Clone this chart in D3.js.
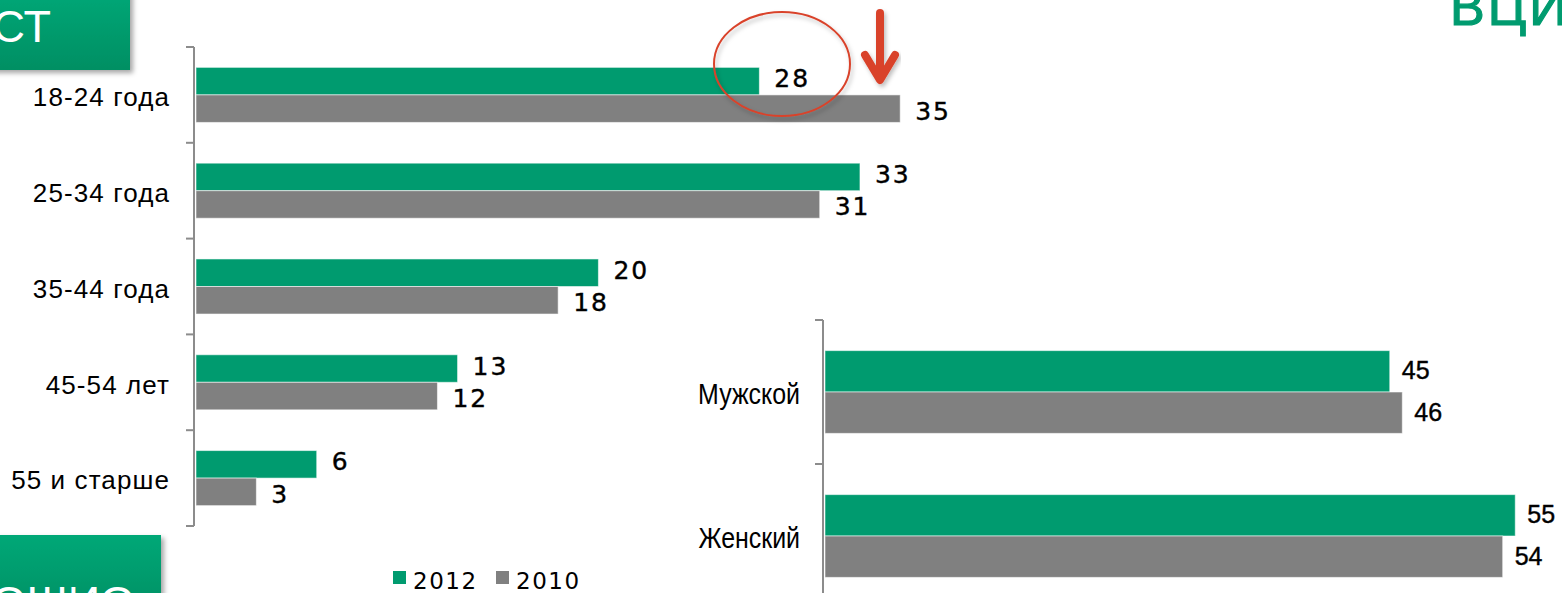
<!DOCTYPE html>
<html><head><meta charset="utf-8">
<script src="https://cdn.jsdelivr.net/npm/d3@7"></script>
<style>
html,body{margin:0;padding:0;background:#fff;overflow:hidden;}
svg{display:block;}
</style></head>
<body>
<svg id="chart" width="1562" height="593"></svg>
<script>
// ---- data ----
const ageCategories = ["18-24 года", "25-34 года", "35-44 года", "45-54 лет", "55 и старше"];
const ageValues2012 = [28, 33, 20, 13, 6];
const ageValues2010 = [35, 31, 18, 12, 3];
const sexCategories = ["Мужской", "Женский"];
const sexValues2012 = [45, 55];
const sexValues2010 = [46, 54];
const seriesNames = ["2012", "2010"];
const seriesColors = ["#009B6F", "#808080"];

const svg = d3.select("#chart");
const defs = svg.append("defs");
const grad = defs.append("linearGradient").attr("id","boxg").attr("x1",0).attr("y1",0).attr("x2",0).attr("y2",1);
grad.append("stop").attr("offset","0%").attr("stop-color","#00A877");
grad.append("stop").attr("offset","100%").attr("stop-color","#008F63");
const sh = defs.append("filter").attr("id","shadow").attr("x","-20%").attr("y","-20%").attr("width","140%").attr("height","140%");
sh.append("feDropShadow").attr("dx",3).attr("dy",3).attr("stdDeviation",2.5).attr("flood-color","#000").attr("flood-opacity",0.35);
const sh2 = defs.append("filter").attr("id","shadow2").attr("x","-20%").attr("y","-20%").attr("width","140%").attr("height","140%");
sh2.append("feDropShadow").attr("dx",2).attr("dy",3).attr("stdDeviation",2).attr("flood-color","#000").attr("flood-opacity",0.25);

// ---- decorative header boxes ----
svg.append("rect").attr("x",-10).attr("y",-10).attr("width",140).attr("height",80)
  .attr("fill","url(#boxg)").attr("filter","url(#shadow)");
svg.append("text").attr("x",51).attr("y",42).attr("text-anchor","end")
  .attr("font-family","Liberation Sans, Arial, sans-serif").attr("font-size",45)
  .attr("fill","#fff").text("СТ");

svg.append("rect").attr("x",-10).attr("y",535).attr("width",171).attr("height",80)
  .attr("fill","url(#boxg)").attr("filter","url(#shadow)");
svg.append("text").attr("x",135).attr("y",618).attr("text-anchor","end")
  .attr("font-family","Liberation Sans, Arial, sans-serif").attr("font-size",45)
  .attr("fill","#fff").text("ОШИО");

svg.append("text").attr("x",1450).attr("y",25)
  .attr("font-family","Liberation Sans, Arial, sans-serif").attr("font-size",52)
  .attr("letter-spacing",3).attr("fill","#009B6F").attr("stroke","#009B6F").attr("stroke-width",1.2)
  .text("ВЦИОМ");

// ---- left chart (age) ----
const axisColor = "#8c8c8c";
const xL = d3.scaleLinear().domain([0, 40]).range([196, 196 + 40 * 20.12]);
const yL = d3.scaleBand().domain(ageCategories).range([47, 526]);
const yL1 = d3.scaleBand().domain(seriesNames).range([0, yL.bandwidth()]).paddingOuter(0.74);

const left = svg.append("g");
const ageData = ageCategories.map((c,i)=>({cat:c, vals:[ageValues2012[i], ageValues2010[i]]}));
const gL = left.selectAll("g.cat").data(ageData).join("g").attr("transform", d=>`translate(0,${yL(d.cat)})`);
gL.selectAll("rect").data(d=>d.vals.map((v,j)=>({v, s:seriesNames[j], j}))).join("rect")
  .attr("x", xL(0)).attr("y", d=>yL1(d.s)).attr("width", d=>xL(d.v)-xL(0)).attr("height", yL1.bandwidth())
  .attr("fill", d=>seriesColors[d.j]).attr("stroke","rgba(255,255,255,0.55)").attr("stroke-width",1);
gL.selectAll("text.val").data(d=>d.vals.map((v,j)=>({v, s:seriesNames[j], j}))).join("text")
  .attr("class","val")
  .attr("x", d=>xL(d.v)+15).attr("y", d=>yL1(d.s)+yL1.bandwidth()/2 + (d.j===0?-3:2))
  .attr("dy","0.36em")
  .attr("font-family","DejaVu Sans, sans-serif").attr("font-size",25).attr("letter-spacing",2)
  .attr("stroke","#000").attr("stroke-width",0.4)
  .attr("fill","#000").text(d=>d.v);

left.append("line").attr("x1",194).attr("x2",194).attr("y1",47).attr("y2",526)
  .attr("stroke",axisColor).attr("stroke-width",2);
left.selectAll("line.tk").data([47, ...ageCategories.map(c=>yL(c)+yL.bandwidth())]).join("line")
  .attr("class","tk").attr("x1",186).attr("x2",194).attr("y1",d=>d).attr("y2",d=>d)
  .attr("stroke",axisColor).attr("stroke-width",2);
left.selectAll("text.cat").data(ageCategories).join("text").attr("class","cat")
  .attr("x",170).attr("y",d=>yL(d)+yL.bandwidth()/2+2).attr("dy","0.36em").attr("text-anchor","end")
  .attr("font-family","Liberation Sans, Arial, sans-serif").attr("font-size",26).attr("letter-spacing",1.1)
  .attr("fill","#000").text(d=>d);

// ---- right chart (sex) ----
const xR = d3.scaleLinear().domain([0, 60]).range([825, 825 + 60 * 12.55]);
const yR = d3.scaleBand().domain(sexCategories).range([320, 608]);
const yR1 = d3.scaleBand().domain(seriesNames).range([0, yR.bandwidth()]).paddingOuter(0.74);
const right = svg.append("g");
const sexData = sexCategories.map((c,i)=>({cat:c, vals:[sexValues2012[i], sexValues2010[i]]}));
const gR = right.selectAll("g.cat").data(sexData).join("g").attr("transform", d=>`translate(0,${yR(d.cat)})`);
gR.selectAll("rect").data(d=>d.vals.map((v,j)=>({v, s:seriesNames[j], j}))).join("rect")
  .attr("x", xR(0)).attr("y", d=>yR1(d.s)).attr("width", d=>xR(d.v)-xR(0)).attr("height", yR1.bandwidth())
  .attr("fill", d=>seriesColors[d.j]).attr("stroke","rgba(255,255,255,0.55)").attr("stroke-width",1);
gR.selectAll("text.val").data(d=>d.vals.map((v,j)=>({v, s:seriesNames[j], j}))).join("text")
  .attr("class","val")
  .attr("x", d=>xR(d.v)+12).attr("y", d=>yR1(d.s)+yR1.bandwidth()/2 - 1)
  .attr("dy","0.36em")
  .attr("font-family","Liberation Sans, Arial, sans-serif").attr("font-size",25)
  .attr("stroke","#000").attr("stroke-width",0.4)
  .attr("fill","#000").text(d=>d.v);
right.append("line").attr("x1",823).attr("x2",823).attr("y1",320).attr("y2",600)
  .attr("stroke",axisColor).attr("stroke-width",2);
right.selectAll("line.tk").data([320, ...sexCategories.map(c=>yR(c)+yR.bandwidth())]).join("line")
  .attr("class","tk").attr("x1",815).attr("x2",823).attr("y1",d=>d).attr("y2",d=>d)
  .attr("stroke",axisColor).attr("stroke-width",2);
right.selectAll("text.cat").data(sexCategories).join("text").attr("class","cat")
  .attr("transform", d=>`translate(800,${yR(d)+yR.bandwidth()/2+2}) scale(0.86,1)`)
  .attr("dy","0.36em").attr("text-anchor","end")
  .attr("font-family","Liberation Sans, Arial, sans-serif").attr("font-size",29)
  .attr("fill","#000").text(d=>d);

// ---- legend ----
const legX = [393, 496];
const leg = svg.append("g");
seriesNames.forEach((s,i)=>{
  leg.append("rect").attr("x",legX[i]).attr("y",571).attr("width",13).attr("height",13).attr("fill",seriesColors[i]);
  leg.append("text").attr("x",legX[i]+20).attr("y",589)
    .attr("font-family","DejaVu Sans, sans-serif").attr("font-size",23).attr("letter-spacing",1.5)
    .attr("fill","#000").text(s);
});

// ---- annotations ----
const red = "#D9432B";
svg.append("ellipse").attr("cx",782).attr("cy",64).attr("rx",68).attr("ry",52)
  .attr("fill","none").attr("stroke",red).attr("stroke-width",2).attr("filter","url(#shadow2)");
const arrow = svg.append("g").attr("filter","url(#shadow2)").attr("stroke",red).attr("stroke-width",8)
  .attr("fill","none").attr("stroke-linecap","round").attr("stroke-linejoin","round");
arrow.append("line").attr("x1",880).attr("x2",880).attr("y1",13).attr("y2",78);
arrow.append("polyline").attr("points","865,55 880,80 895,55");
</script>
</body></html>
